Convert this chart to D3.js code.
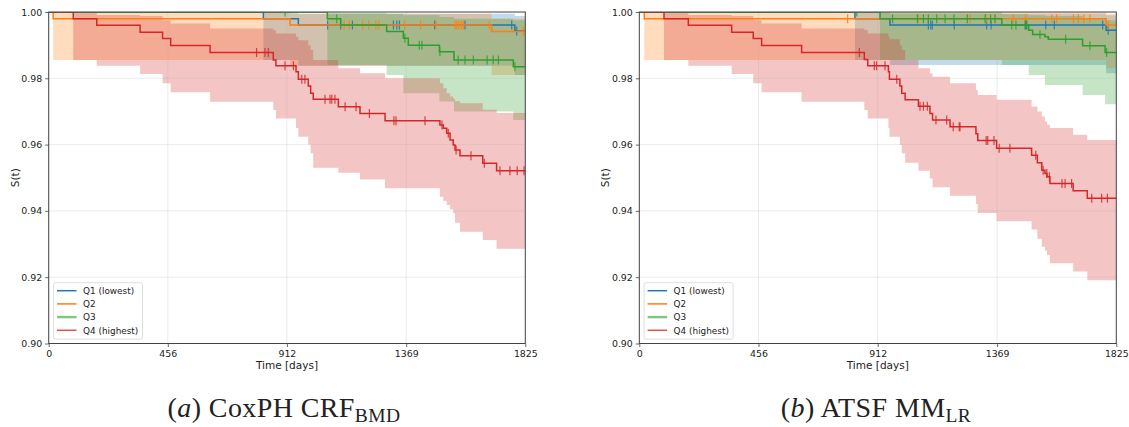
<!DOCTYPE html>
<html>
<head>
<meta charset="utf-8">
<script src="https://cdn.jsdelivr.net/npm/d3@7"></script>
<style>
  body { margin: 0; background: #fff; }
  text { font-family: "DejaVu Sans", sans-serif; fill: #222; }
</style>
</head>
<body>
<svg id="chart" width="1129" height="427"></svg>
<script>
// ---- data: each row is [time, S(t), lower CI, upper CI] at an event time ----
const groupNames = ["Q1 (lowest)", "Q2", "Q3", "Q4 (highest)"];
const xTicks = [0, 456, 912, 1369, 1825];
const yTicks = [0.90, 0.92, 0.94, 0.96, 0.98, 1.00];
const maxTime = 1825;

// (a) CoxPH CRF_BMD
const coxQ1 = [[822, .998, .9855, 1.0], [956, .9961, .9838, .9995], [1785, .9943, .981, .9988]];
const coxQ1Cens = [1068, 1118, 1163, 1320, 1333, 1343, 1478, 1594, 1773, 1792];
const coxQ2 = [[17, .998, .9855, 1.0], [924, .9961, .9838, .9995], [1696, .9941, .981, .998]];
const coxQ2Cens = [1131, 1151, 1202, 1225, 1253, 1264, 1363, 1424, 1483, 1556, 1562, 1570, 1579, 1587, 1687, 1818];
const coxQ3 = [[1067, .998, .984, 1.0], [1118, .9961, .984, .9998], [1294, .9941, .981, .9995],
  [1358, .9921, .9755, .999], [1377, .990, .9755, .999], [1496, .988, .973, .9985],
  [1552, .9855, .970, .998], [1779, .9835, .9674, .9975]];
const coxQ3Cens = [905, 1103, 1364, 1419, 1429, 1498, 1568, 1594, 1626, 1679, 1702, 1722, 1785];
const coxQ4 = [[94, .998, .9855, 1.0], [184, .996, .9838, .9991], [350, .9939, .9813, .9988],
  [436, .992, .9785, .9975], [467, .9899, .9758, .9965], [618, .9878, .9729, .995],
  [860, .9855, .9704, .9945], [870, .9838, .9679, .9935], [947, .982, .965, .9925],
  [956, .9797, .9624, .9915], [994, .9777, .960, .990], [1003, .9755, .9574, .9885],
  [1013, .9737, .953, .9855], [1109, .9714, .9515, .983], [1192, .9694, .9495, .9815],
  [1288, .9672, .9468, .980], [1498, .9659, .9443, .9785], [1511, .9649, .943, .977],
  [1524, .9634, .9418, .9755], [1537, .9614, .9405, .9745], [1549, .9599, .9393, .9738],
  [1556, .9584, .9364, .9731], [1575, .9566, .9337, .9725], [1662, .9544, .9312, .9705],
  [1715, .9521, .9286, .9695]];
const coxQ4Cens = [796, 828, 841, 905, 937, 969, 981, 1058, 1077, 1084, 1096, 1135, 1177, 1228,
  1322, 1330, 1441, 1506, 1530, 1560, 1617, 1668, 1728, 1766, 1794, 1820];

// (b) ATSF MM_LR
const atsfQ1 = [[825, .998, .9855, 1.0], [959, .9961, .984, .9995], [1786, .9945, .9815, .999]];
const atsfQ1Cens = [1106, 1115, 1121, 1205, 1329, 1346, 1476, 1482, 1555, 1588, 1773, 1794];
const atsfQ2 = [[19, .998, .9855, 1.0], [1786, .9961, .983, .9995]];
const atsfQ2Cens = [797, 1067, 1265, 1327, 1361, 1431, 1478, 1578, 1597, 1661, 1680, 1701, 1724, 1794];
const atsfQ3 = [[921, .998, .9855, 1.0], [1387, .9961, .984, .9993], [1490, .9945, .981, .999],
  [1505, .9932, .981, .999], [1552, .9925, .978, .9988], [1565, .9918, .978, .9988],
  [1696, .9898, .975, .998], [1782, .9878, .9722, .9975]];
const atsfQ3Cens = [832, 969, 1064, 1087, 1106, 1138, 1170, 1204, 1255, 1323, 1344, 1361, 1425,
  1441, 1478, 1482, 1533, 1631, 1724, 1788];
const atsfQ4 = [[94.5, .998, .9855, 1.0], [187.5, .996, .9838, .9991], [353.5, .9939, .9813, .9988],
  [436, .992, .9785, .9975], [468, .9899, .9758, .9965], [621, .9878, .9729, .995],
  [861, .9857, .9704, .9946], [874, .9838, .9679, .9935], [953, .982, .965, .9925],
  [957, .9797, .9624, .9918], [997, .9777, .9599, .990], [1004, .9755, .9574, .9885],
  [1017, .9735, .9545, .9855], [1068, .9716, .9521, .983], [1112, .9694, .9498, .9815],
  [1122, .9674, .9471, .9805], [1189, .9654, .9446, .9785], [1288, .9633, .9421, .9765],
  [1295, .9612, .9394, .975], [1367, .9589, .9369, .9735], [1501, .9568, .9344, .9715],
  [1523, .9545, .9316, .970], [1540, .9523, .9292, .9685], [1552, .9513, .928, .967],
  [1560, .9503, .9267, .966], [1571, .9483, .9242, .965], [1660, .9461, .9217, .963],
  [1714, .9438, .9191, .9614]];
const atsfQ4Cens = [842, 899, 908, 940, 985, 1074, 1087, 1102, 1135, 1176, 1201, 1224, 1227, 1327,
  1333, 1357, 1377, 1418, 1517, 1545, 1559, 1569, 1617, 1629, 1654, 1731, 1769, 1791];

const colors = ["#1f77b4", "#ff7f0e", "#2ca02c", "#d62728"];

const svg = d3.select("#chart");
svg.append("rect").attr("width", 1129).attr("height", 427).attr("fill", "#fff");

const panels = [
  { id: "a", left: 48.7, right: 525.3, letter: "a", title: "CoxPH CRF", sub: "BMD", capX: 284,
    steps: [coxQ1, coxQ2, coxQ3, coxQ4], cens: [coxQ1Cens, coxQ2Cens, coxQ3Cens, coxQ4Cens] },
  { id: "b", left: 639.3, right: 1116.3, letter: "b", title: "ATSF MM", sub: "LR", capX: 876,
    steps: [atsfQ1, atsfQ2, atsfQ3, atsfQ4], cens: [atsfQ1Cens, atsfQ2Cens, atsfQ3Cens, atsfQ4Cens] }
];

panels.forEach(drawPanel);

function drawPanel(p) {
  const top = 12, bottom = 343.5;
  const x = d3.scaleLinear().domain([0, maxTime]).range([p.left, p.right]);
  const y = d3.scaleLinear().domain([0.90, 1.00]).range([bottom, top]);
  const g = svg.append("g");

  g.append("clipPath").attr("id", "clip-" + p.id)
    .append("rect").attr("x", p.left).attr("y", top)
    .attr("width", p.right - p.left).attr("height", bottom - top);
  const plot = g.append("g").attr("clip-path", "url(#clip-" + p.id + ")");

  // full step tables: start at t=0 and carry the last value to the end
  const tables = p.steps.map(rows => {
    const last = rows[rows.length - 1];
    return [[0, 1, 1, 1]].concat(rows, [[maxTime, last[1], last[2], last[3]]]);
  });

  // confidence bands (below everything else)
  const area = d3.area().curve(d3.curveStepAfter)
    .x(d => x(d[0])).y0(d => y(d[2])).y1(d => y(d[3]));
  tables.forEach((rows, i) => {
    plot.append("path").attr("d", area(rows))
      .attr("fill", colors[i]).attr("fill-opacity", 0.27).attr("stroke", "none");
  });

  // grid
  plot.selectAll(".gx").data(xTicks).join("line")
    .attr("x1", d => x(d)).attr("x2", d => x(d)).attr("y1", top).attr("y2", bottom)
    .attr("stroke", "#b0b0b0").attr("stroke-opacity", 0.3).attr("stroke-width", 0.8);
  plot.selectAll(".gy").data(yTicks).join("line")
    .attr("x1", p.left).attr("x2", p.right).attr("y1", d => y(d)).attr("y2", d => y(d))
    .attr("stroke", "#b0b0b0").attr("stroke-opacity", 0.3).attr("stroke-width", 0.8);

  // survival curves and censor marks
  const line = d3.line().curve(d3.curveStepAfter).x(d => x(d[0])).y(d => y(d[1]));
  tables.forEach((rows, i) => {
    plot.append("path").attr("d", line(rows))
      .attr("fill", "none").attr("stroke", colors[i]).attr("stroke-width", 1.5);
    const sAt = t => { let s = 1; rows.forEach(r => { if (r[0] <= t) s = r[1]; }); return s; };
    plot.selectAll(null).data(p.cens[i]).join("line")
      .attr("x1", d => x(d)).attr("x2", d => x(d))
      .attr("y1", d => y(sAt(d)) - 4.5).attr("y2", d => y(sAt(d)) + 4.5)
      .attr("stroke", colors[i]).attr("stroke-width", 1.2).attr("stroke-opacity", 0.85);
  });

  // spines
  g.append("rect").attr("x", p.left).attr("y", top)
    .attr("width", p.right - p.left).attr("height", bottom - top)
    .attr("fill", "none").attr("stroke", "#444").attr("stroke-width", 1);

  // axes
  const xAxis = d3.axisBottom(x).tickValues(xTicks).tickSize(3.5).tickPadding(3).tickFormat(d3.format("d"));
  const yAxis = d3.axisLeft(y).tickValues(yTicks).tickSize(3.5).tickPadding(3).tickFormat(d3.format(".2f"));
  const gx = g.append("g").attr("transform", `translate(0,${bottom})`).call(xAxis);
  const gy = g.append("g").attr("transform", `translate(${p.left},0)`).call(yAxis);
  [gx, gy].forEach(a => {
    a.select(".domain").remove();
    a.selectAll(".tick line").attr("stroke", "#444").attr("stroke-width", 0.8);
    a.selectAll(".tick text").attr("fill", "#222").style("font-size", "9.4px")
      .style("font-family", "DejaVu Sans, sans-serif");
  });

  g.append("text").attr("x", (p.left + p.right) / 2).attr("y", 369)
    .attr("text-anchor", "middle").style("font-size", "10.5px").text("Time [days]");
  g.append("text").attr("transform", `translate(${p.left - 30},${(top + bottom) / 2}) rotate(-90)`)
    .attr("text-anchor", "middle").style("font-size", "10.5px").text("S(t)");

  // legend
  const lx = p.left + 4.8, ly = 282.7;
  const leg = g.append("g");
  leg.append("rect").attr("x", lx).attr("y", ly).attr("width", 89).attr("height", 56.5)
    .attr("rx", 2).attr("fill", "#fff").attr("fill-opacity", 0.8)
    .attr("stroke", "#d6d6d6").attr("stroke-width", 0.8);
  groupNames.forEach((name, i) => {
    const cy = ly + 8 + i * 13.2;
    leg.append("line").attr("x1", lx + 3.5).attr("x2", lx + 23).attr("y1", cy).attr("y2", cy)
      .attr("stroke", colors[i])
      .attr("stroke-width", i === 2 ? 2.4 : 1.5)
      .attr("stroke-opacity", i === 2 ? 0.6 : (i === 3 ? 0.8 : 1));
    leg.append("text").attr("x", lx + 29.5).attr("y", cy + 3.2)
      .style("font-size", "8.9px").text(name);
  });

  // caption
  const cap = g.append("text").attr("x", p.capX).attr("y", 417).attr("text-anchor", "middle")
    .style("font-family", "Liberation Serif, DejaVu Serif, serif").style("font-size", "28px")
    .style("letter-spacing", "0.4px");
  cap.append("tspan").text("(");
  cap.append("tspan").style("font-style", "italic").text(p.letter);
  cap.append("tspan").text(") " + p.title);
  cap.append("tspan").attr("dy", 5).style("font-size", "19.5px").text(p.sub);
}
</script>
</body>
</html>
